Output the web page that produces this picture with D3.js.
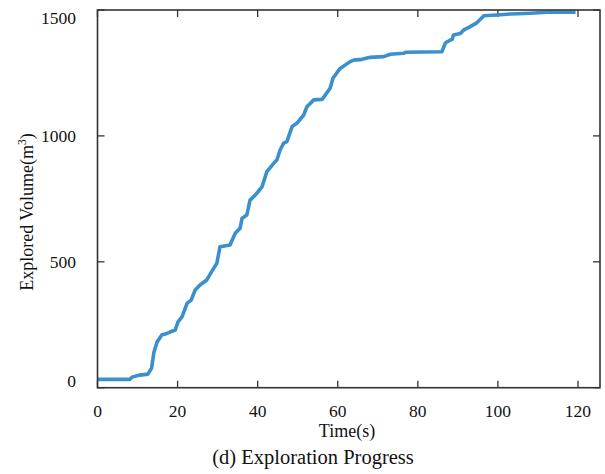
<!DOCTYPE html>
<html>
<head>
<meta charset="utf-8">
<script src="https://cdn.jsdelivr.net/npm/d3@7"></script>
<style>
  html, body { margin: 0; padding: 0; background: #fff; }
  svg { display: block; }
  text { font-family: "Liberation Serif", "Times New Roman", serif; fill: #111; }
</style>
</head>
<body>
<svg id="chart" width="605" height="474"></svg>
<script>
// Exploration progress: explored volume over time
const timeS = [0, 8.1, 8.6, 10.6, 12.6, 13.5, 14.1, 14.9, 16.1, 16.9, 18.1, 19.4, 20.1, 21.1, 22.4, 23.4, 24.4, 25.6, 27.3, 28.5, 29.8, 30.6, 33.1, 34.4, 35.6, 36.1, 37.3, 38.1, 39.4, 41.1, 42.3, 44.0, 44.8, 45.6, 46.5, 47.3, 48.6, 49.8, 51.5, 52.3, 54.0, 56.1, 58.1, 58.8, 60.6, 63.1, 64.0, 66.1, 68.1, 71.5, 73.1, 76.5, 76.9, 86.0, 86.9, 88.6, 88.9, 90.6, 91.5, 93.1, 94.8, 96.5, 99.8, 103.1, 108.1, 112.3, 119.4];
const volume = [33, 33, 42, 50, 54, 78, 142, 182, 210, 213, 221, 229, 261, 281, 336, 348, 388, 408, 428, 461, 494, 560, 567, 613, 633, 673, 686, 745, 765, 798, 858, 891, 904, 944, 971, 977, 1037, 1050, 1083, 1116, 1143, 1145, 1189, 1229, 1268, 1295, 1301, 1304, 1312, 1315, 1324, 1328, 1332, 1334, 1370, 1384, 1401, 1407, 1421, 1434, 1450, 1477, 1480, 1484, 1487, 1491, 1491];
const xTicks = [0, 20, 40, 60, 80, 100, 120];
const yTicks = [0, 500, 1000, 1500];

const plotLeft = 97.5, plotRight = 600, plotTop = 10, plotBottom = 387.7;
const svg = d3.select("#chart");

const x = d3.scaleLinear().domain([0, 125.5]).range([plotLeft, plotRight]);
const y = d3.scaleLinear().domain([0, 1500]).range([plotBottom, plotTop]);

const axisColor = "#333";

// mirrored inward ticks on all four sides
const tickLen = 7;
const g = svg.append("g");
xTicks.forEach(t => {
  g.append("line").attr("x1", x(t)).attr("x2", x(t)).attr("y1", plotBottom).attr("y2", plotBottom - tickLen)
    .attr("stroke", axisColor).attr("stroke-width", 1.3);
  g.append("line").attr("x1", x(t)).attr("x2", x(t)).attr("y1", plotTop).attr("y2", plotTop + tickLen)
    .attr("stroke", axisColor).attr("stroke-width", 1.3);
});
yTicks.forEach(v => {
  g.append("line").attr("x1", plotLeft).attr("x2", plotLeft + tickLen).attr("y1", y(v)).attr("y2", y(v))
    .attr("stroke", axisColor).attr("stroke-width", 1.3);
  g.append("line").attr("x1", plotRight).attr("x2", plotRight - tickLen).attr("y1", y(v)).attr("y2", y(v))
    .attr("stroke", axisColor).attr("stroke-width", 1.3);
});

// data line
const line = d3.line().x((d, i) => x(timeS[i])).y(d => y(d));
svg.append("path")
  .datum(volume)
  .attr("d", line)
  .attr("fill", "none")
  .attr("stroke", "#3a8fcd")
  .attr("stroke-width", 3.6)
  .attr("stroke-linejoin", "round")
  .attr("stroke-linecap", "butt");

// frame
svg.append("rect")
  .attr("x", plotLeft).attr("y", plotTop)
  .attr("width", plotRight - plotLeft).attr("height", plotBottom - plotTop)
  .attr("fill", "none").attr("stroke", axisColor).attr("stroke-width", 1.6);

// x tick labels
svg.append("g").selectAll("text").data(xTicks).join("text")
  .attr("x", d => x(d)).attr("y", 416.5)
  .attr("text-anchor", "middle")
  .attr("font-size", 17.5)
  .text(d => d);

// y tick labels (end labels kept inside the frame)
const yLabelShift = v => v === 0 ? -6.5 : (v === 1500 ? 8 : 0);
svg.append("g").selectAll("text").data(yTicks).join("text")
  .attr("x", 76).attr("y", d => y(d) + yLabelShift(d) + 6)
  .attr("text-anchor", "end")
  .attr("font-size", 17.5)
  .text(d => d);

// axis titles
svg.append("text")
  .attr("x", 347).attr("y", 437)
  .attr("text-anchor", "middle")
  .attr("font-size", 18)
  .text("Time(s)");

const yt = svg.append("text")
  .attr("transform", "translate(33,212) rotate(-90)")
  .attr("text-anchor", "middle")
  .attr("font-size", 18);
yt.append("tspan").text("Explored Volume(m");
yt.append("tspan").attr("font-size", 11.5).attr("dy", -7).text("3");
yt.append("tspan").attr("dy", 7).text(")");

// caption
svg.append("text")
  .attr("x", 313).attr("y", 464)
  .attr("text-anchor", "middle")
  .attr("font-size", 20.5)
  .text("(d) Exploration Progress");
</script>
</body>
</html>
